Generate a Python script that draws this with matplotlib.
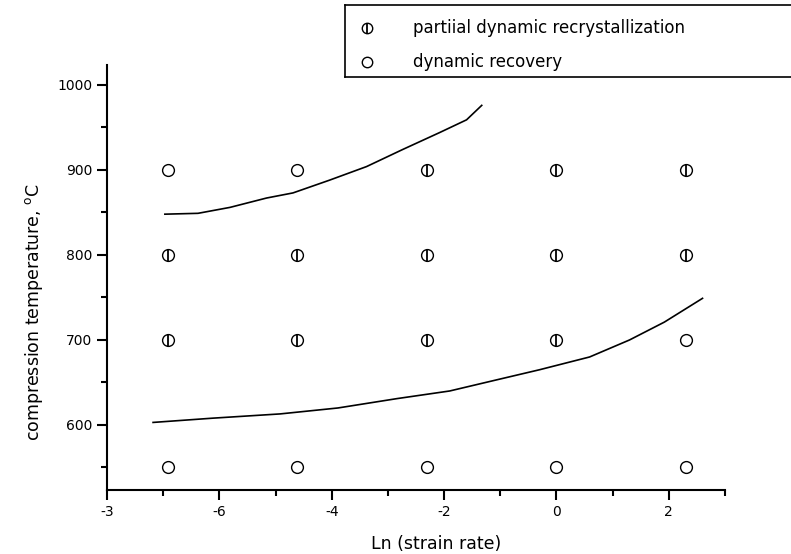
import numpy as np
import matplotlib.pyplot as plt
from matplotlib.ticker import MultipleLocator

# ln(strain rate) of the tests and temperatures (deg C)
strain_ln = [-6.91, -4.61, -2.30, 0.0, 2.30]
temps = [550, 700, 800, 900]

# microstructure at each test: 'P' = partial DRX, 'R' = dynamic recovery
state = {
    900: ['R', 'R', 'P', 'P', 'P'],
    800: ['P', 'P', 'P', 'P', 'P'],
    700: ['P', 'P', 'P', 'P', 'R'],
    550: ['R', 'R', 'R', 'R', 'R'],
}

# boundary curves
upper_x = [-6.97, -6.38, -5.81, -5.16, -4.69, -4.04, -3.38, -2.74, -2.08, -1.60, -1.33]
upper_y = [848, 849, 856, 867, 873, 888, 904, 924, 944, 959, 976]
lower_x = [-7.18, -6.12, -4.92, -3.89, -2.84, -1.90, -1.07, -0.30, 0.59, 1.30, 1.92, 2.60]
lower_y = [603, 608, 613, 620, 631, 640, 653, 665, 680, 700, 721, 749]

xtick_pos = [-8, -6, -4, -2, 0, 2]
xtick_lab = ['-3', '-6', '-4', '-2', '0', '2']
ytick_pos = [600, 700, 800, 900, 1000]

fig = plt.figure(figsize=(7.91, 5.54), dpi=100)
ax = fig.add_axes([107/791, 64/554, 618/791, 425/554])

ms = 8.5
for t in temps:
    for x, s in zip(strain_ln, state[t]):
        ax.plot(x, t, 'o', ms=ms, mfc='white', mec='black', mew=1.0)
        if s == 'P':
            ax.plot(x, t, '|', ms=ms, mec='black', mew=1.3)

ax.plot(upper_x, upper_y, 'k-', lw=1.2)
ax.plot(lower_x, lower_y, 'k-', lw=1.2)

ax.set_xlim(-8, 3)
ax.set_ylim(523.5, 1023.5)
ax.set_xticks(xtick_pos)
ax.set_xticklabels(xtick_lab)
ax.set_yticks(ytick_pos)
ax.xaxis.set_minor_locator(MultipleLocator(1))
ax.yaxis.set_minor_locator(MultipleLocator(50))
ax.tick_params(which='major', length=7, width=1.5, labelsize=10, direction='out')
ax.tick_params(which='minor', length=4, width=1.5, direction='out')
for s in ['top', 'right']:
    ax.spines[s].set_visible(False)
for s in ['left', 'bottom']:
    ax.spines[s].set_linewidth(1.5)

ax.set_xlabel('Ln (strain rate)', fontsize=12.5)
ax.set_ylabel('compression temperature, $^{\\mathrm{o}}$C', fontsize=12.5)
ax.xaxis.set_label_coords(0.532, -0.105)
ax.yaxis.set_label_coords(-0.10, 0.42)

# legend box in the top right corner
lax = fig.add_axes([345/791, 477/554, 0.6, 72/554])
lax.set_xlim(0, 1)
lax.set_ylim(0, 1)
lax.set_xticks([])
lax.set_yticks([])
lax.spines['right'].set_visible(False)
for s in ['left', 'top', 'bottom']:
    lax.spines[s].set_linewidth(1.2)
lax.plot(0.046, 0.68, 'o', ms=7.5, mfc='white', mec='black', mew=1.0)
lax.plot(0.046, 0.68, '|', ms=7.5, mec='black', mew=1.3)
lax.plot(0.046, 0.21, 'o', ms=7.5, mfc='white', mec='black', mew=1.0)
lax.text(0.143, 0.68, 'partiial dynamic recrystallization', fontsize=12, va='center')
lax.text(0.143, 0.21, 'dynamic recovery', fontsize=12, va='center')

fig.savefig('out.png', dpi=100)
